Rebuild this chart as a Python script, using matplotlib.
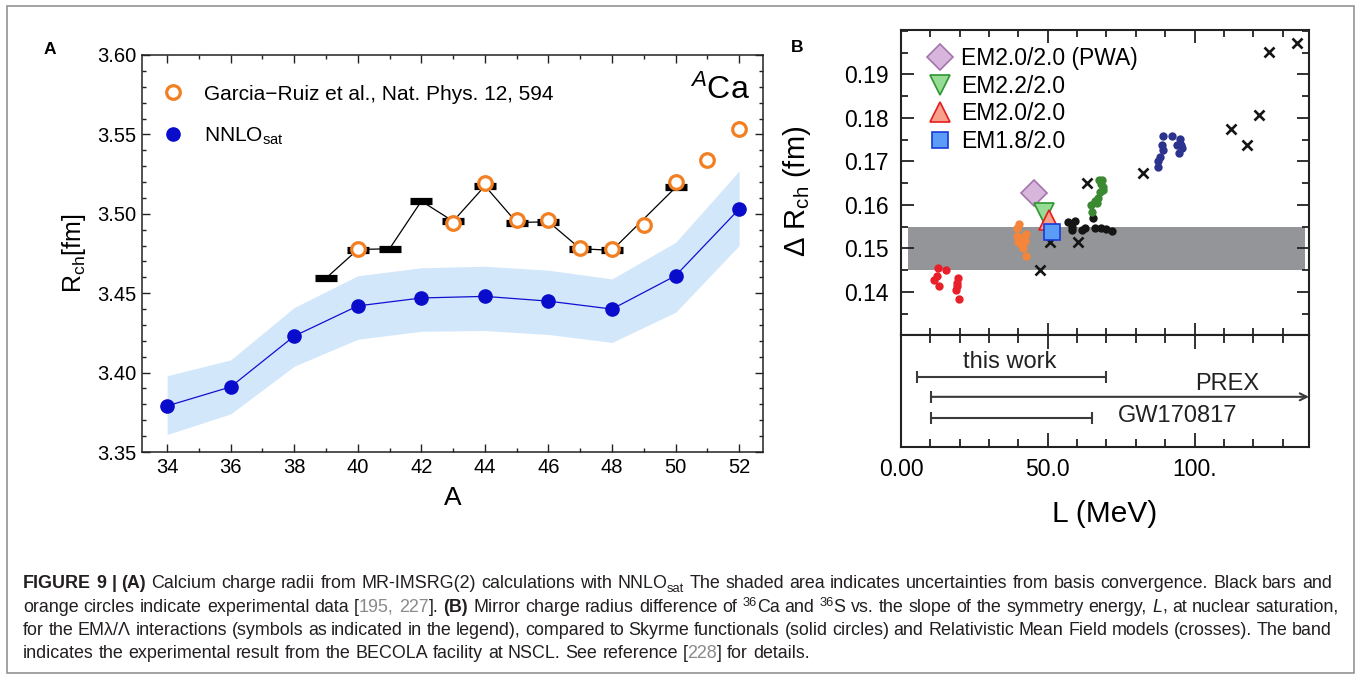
import re
import numpy as np
import matplotlib
matplotlib.use("Agg")
import matplotlib.pyplot as plt
from matplotlib.ticker import MultipleLocator, FixedLocator
from matplotlib.patches import Rectangle

plt.rcParams['font.family'] = ['Liberation Sans', 'DejaVu Sans']
plt.rcParams['mathtext.fontset'] = 'custom'
plt.rcParams['mathtext.rm'] = 'Liberation Sans'
plt.rcParams['mathtext.it'] = 'Liberation Sans:italic'
plt.rcParams['mathtext.bf'] = 'Liberation Sans:bold'

# ---------------- Panel A data ----------------
A_theory = [34, 36, 38, 40, 42, 44, 46, 48, 50, 52]
R_nnlo = [3.379, 3.391, 3.423, 3.442, 3.447, 3.448, 3.445, 3.440, 3.461, 3.503]
R_nnlo_lo = [3.361, 3.374, 3.404, 3.421, 3.426, 3.4265, 3.424, 3.419, 3.438, 3.480]
R_nnlo_hi = [3.398, 3.408, 3.441, 3.461, 3.466, 3.467, 3.4645, 3.459, 3.482, 3.527]

A_bars = [39, 40, 41, 42, 43, 44, 45, 46, 47, 48, 50]
R_bars = [3.4595, 3.4775, 3.478, 3.508, 3.4953, 3.5176, 3.4945, 3.495, 3.478, 3.477, 3.5166]

A_garcia = [40, 43, 44, 45, 46, 47, 48, 49, 50, 51, 52]
R_garcia = [3.478, 3.4945, 3.5193, 3.496, 3.496, 3.4784, 3.478, 3.4929, 3.5198, 3.534, 3.5535]
R_garcia_err = [0, 0, 0, 0, 0, 0, 0, 0, 0, 0, 0.005]

A_xticks = [34, 36, 38, 40, 42, 44, 46, 48, 50, 52]
A_yticks = [3.35, 3.40, 3.45, 3.50, 3.55, 3.60]

# ---------------- Panel B data ----------------
red_L = [12.5, 15.3, 11.4, 12.4, 13.1, 19.4, 19.2, 18.8, 19.8, 19.0]
red_R = [0.1454, 0.1451, 0.1427, 0.1436, 0.1413, 0.1432, 0.1421, 0.1405, 0.1384, 0.1413]
orange_L = [40.2, 39.5, 42.7, 39.5, 40.0, 41.8, 41.2, 42.6, 40.8, 42.4, 41.5]
orange_R = [0.1555, 0.1547, 0.1534, 0.1528, 0.1515, 0.1515, 0.1505, 0.1482, 0.1524, 0.1518, 0.1501]
black_L = [56.8, 59.4, 58.2, 58.4, 61.8, 62.7, 65.4, 66.1, 68.2, 69.9, 72.0]
black_R = [0.1561, 0.1563, 0.1543, 0.1549, 0.1543, 0.1546, 0.1569, 0.1548, 0.1547, 0.1544, 0.1541]
green_L = [67.6, 68.6, 68.2, 68.8, 67.9, 67.1, 66.1, 64.7, 65.1, 66.8, 68.8]
green_R = [0.1658, 0.1658, 0.1648, 0.1635, 0.1629, 0.1616, 0.1610, 0.1600, 0.1583, 0.1605, 0.1642]
navy_L = [89.1, 92.4, 95.1, 88.8, 89.4, 88.2, 87.6, 87.6, 94.1, 95.9, 94.7, 95.3]
navy_R = [0.1759, 0.1759, 0.1752, 0.1738, 0.1726, 0.1711, 0.1700, 0.1688, 0.1738, 0.1730, 0.1719, 0.1738]
rmf_L = [125.3, 134.9, 122.1, 112.4, 117.9, 82.4, 63.4, 50.9, 60.4, 47.3]
rmf_R = [0.1952, 0.1973, 0.1806, 0.1774, 0.1738, 0.1673, 0.1650, 0.1515, 0.1514, 0.1451]

em_labels = ["EM2.0/2.0 (PWA)", "EM2.2/2.0", "EM2.0/2.0", "EM1.8/2.0"]
em_L = [45.3, 48.6, 50.3, 51.6]
em_R = [0.1627, 0.1582, 0.1566, 0.1538]

becola_L = [2.4, 137.6]
becola_lo = 0.145
becola_hi = 0.155

B_yticks = [0.14, 0.15, 0.16, 0.17, 0.18, 0.19]
B_xticks = [0, 50, 100]
B_xticklabels = ["0.00", "50.0", "100."]

constraint_names = ["this work", "PREX", "GW170817"]
constraint_lo = [5.3, 10.2, 10.2]
constraint_hi = [70.0, None, 65.1]

# ---------------- Figure ----------------
W, H = 1359, 679
fig = plt.figure(figsize=(W / 100, H / 100), dpi=100)
fig.patch.set_facecolor('white')

def ax_rect(x0, y0, x1, y1):
    return [x0 / W, (H - y1) / H, (x1 - x0) / W, (y1 - y0) / H]

fig.add_artist(Rectangle((7 / W, (H - 673) / H), (1354 - 7) / W, (673 - 6) / H,
                         transform=fig.transFigure, fill=False,
                         edgecolor='#8a8a8a', lw=1.1))

# ---------- Panel A ----------
axA = fig.add_axes(ax_rect(142, 55, 763, 452))
axA.fill_between(A_theory, R_nnlo_lo, R_nnlo_hi, color='#d3e7fb', lw=0, zorder=1)
axA.plot(A_theory, R_nnlo, '-', color='#1010d0', lw=0.9, zorder=2)
axA.plot(A_theory, R_nnlo, 'o', color='#0a0ccc', ms=9.5, mec='#0a0ccc', zorder=3,
         label=r'NNLO$_{\mathrm{sat}}$')
axA.plot(A_bars, R_bars, '-', color='black', lw=0.9, zorder=4)
axA.plot(A_bars, R_bars, '_', color='black', ms=16.5, mew=5.2, zorder=5)
axA.errorbar(A_garcia, R_garcia, yerr=R_garcia_err, fmt='none', ecolor='#f28022',
             elinewidth=1.5, capsize=0, zorder=6)
axA.plot(A_garcia, R_garcia, 'o', ms=9.8, mfc='white', mec='#f28022', mew=2.3, ls='none',
         zorder=7, label='Garcia\u2212Ruiz et al., Nat. Phys. 12, 594')

axA.set_xlim(33.21, 52.75)
axA.set_ylim(3.35, 3.60)
axA.xaxis.set_major_locator(FixedLocator(A_xticks))
axA.xaxis.set_minor_locator(MultipleLocator(1))
axA.yaxis.set_major_locator(FixedLocator(A_yticks))
axA.yaxis.set_minor_locator(MultipleLocator(0.01))
axA.set_yticklabels([f"{v:.2f}" for v in A_yticks])
axA.tick_params(which='both', direction='in', top=True, right=True, labelsize=14.5,
                width=1.0, color='#222222')
axA.tick_params(which='major', length=6, pad=4)
axA.tick_params(which='minor', length=3)
for s in axA.spines.values():
    s.set_linewidth(1.1)
    s.set_color('#222222')
axA.set_ylabel(r'R$_{\mathrm{ch}}$[fm]', fontsize=18)
axA.yaxis.set_label_coords(-0.087, 0.5)
axA.set_xlabel('A', fontsize=19, va='top')
axA.xaxis.set_label_coords(0.5, -0.085)

hA, lA = axA.get_legend_handles_labels()
legA = axA.legend(hA[::-1], lA[::-1], loc='upper left', bbox_to_anchor=(0.033, 0.925),
                  frameon=False, fontsize=15, handlelength=1.0, handletextpad=1.0,
                  labelspacing=1.05, borderpad=0, borderaxespad=0, numpoints=1)
axA.text(0.979, 0.912, r'$^{A}$Ca', transform=axA.transAxes, ha='right', va='center',
         fontsize=23)

fig.text(50 / W, 1 - 50 / H, 'A', fontsize=12.5, fontweight='bold', ha='center', va='center')
fig.text(797 / W, 1 - 48 / H, 'B', fontsize=12.5, fontweight='bold', ha='center', va='center')

# ---------- Panel B (upper) ----------
axB = fig.add_axes(ax_rect(901, 30, 1309, 335))
axB.fill_between(becola_L, becola_lo, becola_hi, color='#939598', lw=0, zorder=1)
dot_kw = dict(s=36, lw=0, zorder=3)
axB.scatter(red_L, red_R, color='#e8202a', **dot_kw)
axB.scatter(orange_L, orange_R, color='#f5853a', **dot_kw)
axB.scatter(black_L, black_R, color='#151515', **dot_kw)
axB.scatter(green_L, green_R, color='#3b8a32', **dot_kw)
axB.scatter(navy_L, navy_R, color='#2b338f', **dot_kw)
axB.plot(rmf_L, rmf_R, 'x', color='#151515', ms=7, mew=1.9, ls='none', zorder=4)

em_styles = [
    dict(marker='D', ms=13, mfc='#d8b6dc', mec='#a474ae'),
    dict(marker='v', ms=14, mfc='#96dc96', mec='#2e962e'),
    dict(marker='^', ms=14, mfc='#f8a08c', mec='#e41c1c'),
    dict(marker='s', ms=11, mfc='#5b9cf6', mec='#1a3ad8'),
]
for lab, x, y, st in zip(em_labels, em_L, em_R, em_styles):
    axB.plot([x], [y], ls='none', mew=1.2, zorder=5, label=lab, **st)

axB.set_xlim(0, 139)
axB.set_ylim(0.1301, 0.2002)
axB.xaxis.set_major_locator(FixedLocator(B_xticks))
axB.xaxis.set_minor_locator(MultipleLocator(10))
axB.yaxis.set_major_locator(FixedLocator(B_yticks))
axB.yaxis.set_minor_locator(MultipleLocator(0.005))
axB.set_yticklabels([f"{v:.2f}" for v in B_yticks])
axB.tick_params(which='both', direction='in', top=True, right=True, bottom=True,
                labelbottom=False, labelsize=16.5, width=1.3, color='#222222')
axB.tick_params(which='major', length=9, pad=9)
axB.tick_params(which='minor', length=5)
for s in axB.spines.values():
    s.set_linewidth(1.5)
    s.set_color('#222222')
axB.set_ylabel(r'$\Delta$ R$_{\mathrm{ch}}$ (fm)', fontsize=21)
axB.yaxis.set_label_coords(-0.215, 0.47)

axB.legend(loc='upper left', bbox_to_anchor=(0.068, 0.944), frameon=False, fontsize=16.5,
           handlelength=0.95, handletextpad=0.45, labelspacing=0.2, borderpad=0,
           borderaxespad=0, numpoints=1)

# ---------- Panel B (lower) ----------
axL = fig.add_axes(ax_rect(901, 335, 1309, 447))
axL.set_xlim(0, 139)
axL.set_ylim(0, 1)
rows = [0.629, 0.448, 0.262]
text_pos = [(37.1, 0.76, 'center'), (111.2, 0.565, 'center'), (73.9, 0.28, 'left')]
lc = '#3a3a3a'
for name, lo, hi, yr, (tx, ty, ha) in zip(constraint_names, constraint_lo, constraint_hi,
                                           rows, text_pos):
    if hi is None:
        axL.annotate('', xy=(axL.get_xlim()[1], yr), xytext=(lo, yr),
                     arrowprops=dict(arrowstyle='->,head_length=0.5,head_width=0.25',
                                     shrinkA=0, shrinkB=0, lw=1.5, color=lc))
        axL.plot([lo], [yr], marker='|', ms=8.6, mew=1.5, color=lc, ls='none')
    else:
        axL.errorbar([(lo + hi) / 2], [yr], xerr=[(hi - lo) / 2], fmt='none', ecolor=lc,
                     elinewidth=1.5, capsize=4.3, capthick=1.5)
    axL.text(tx, ty, name, ha=ha, va='center', fontsize=17, color='#222222')

axL.xaxis.set_major_locator(FixedLocator(B_xticks))
axL.set_xticklabels(B_xticklabels)
axL.xaxis.set_minor_locator(MultipleLocator(10))
axL.set_yticks([])
axL.tick_params(axis='x', which='both', direction='in', top=True, bottom=True,
                labelsize=16.5, width=1.3, color='#222222')
axL.tick_params(axis='x', which='major', length=10, pad=8)
axL.tick_params(axis='x', which='minor', length=6)
for s in axL.spines.values():
    s.set_linewidth(1.5)
    s.set_color('#222222')
axL.set_xlabel('L (MeV)', fontsize=21.5, va='top')
axL.xaxis.set_label_coords(0.5, -0.47)

# ---------------- Caption ----------------
renderer = fig.canvas.get_renderer()
TXT = '#231f20'
GREY = '#8a8a8a'
CAP_SIZE = 12.0

def props(weight='normal', style='normal', color=TXT, scale=1.0, dy=0.0):
    return dict(weight=weight, style=style, color=color, scale=scale, dy=dy)

N = props()
Bd = props(weight='bold')
It = props(style='italic')
Gr = props(color=GREY)
Sub = props(scale=0.72, dy=-3.5)
Sup = props(scale=0.72, dy=6)

caption_lines = [
    [("FIGURE 9 | ", Bd), ("(A)", Bd),
     (" Calcium charge radii from MR-IMSRG(2) calculations with NNLO", N), ("sat", Sub),
     (" The shaded area indicates uncertainties from basis convergence. Black bars and", N)],
    [("orange circles indicate experimental data [", N), ("195, 227", Gr), ("]. ", N),
     ("(B)", Bd), (" Mirror charge radius difference of ", N), ("36", Sup), ("Ca and ", N),
     ("36", Sup), ("S vs. the slope of the symmetry energy, ", N), ("L", It),
     (", at nuclear saturation,", N)],
    [("for the EM\u03bb/\u039b interactions (symbols as indicated in the legend), compared to "
      "Skyrme functionals (solid circles) and Relativistic Mean Field models (crosses). The band", N)],
    [("indicates the experimental result from the BECOLA facility at NSCL. See reference [", N),
     ("228", Gr), ("] for details.", N)],
]
baselines = [588, 611.5, 635, 658.5]
right_edges = [1332, 1339, 1332, None]
X0 = 23

def measure(s, p, size):
    kw = dict(fontsize=size * p['scale'], fontweight=p['weight'], fontstyle=p['style'])
    t1 = fig.text(0, 0, s + '|', **kw)
    t2 = fig.text(0, 0, '|', **kw)
    w = t1.get_window_extent(renderer).width - t2.get_window_extent(renderer).width
    t1.remove(); t2.remove()
    return w

def tokens(line):
    items = []
    for text, p in line:
        for part in re.split('( )', text):
            if part == '':
                continue
            items.append(('sp' if part == ' ' else 'w', part, p))
    return items

nat0 = sum(measure(t, p, CAP_SIZE) for _, t, p in tokens(caption_lines[0]))
cap_size = CAP_SIZE * (right_edges[0] - X0) / nat0
cap_size = min(cap_size, 13.5)

for line, yb, xr in zip(caption_lines, baselines, right_edges):
    items = tokens(line)
    widths = [measure(t, p, cap_size) for _, t, p in items]
    nsp = sum(1 for k, _, _ in items if k == 'sp')
    extra = 0.0
    if xr is not None and nsp:
        extra = (xr - X0 - sum(widths)) / nsp
    x = X0
    for (k, t, p), w in zip(items, widths):
        if k == 'w':
            fig.text(x / W, (H - yb + p['dy']) / H, t, fontsize=cap_size * p['scale'],
                     fontweight=p['weight'], fontstyle=p['style'], color=p['color'],
                     ha='left', va='baseline')
            x += w
        else:
            x += w + extra

fig.savefig('out.png', dpi=100)
